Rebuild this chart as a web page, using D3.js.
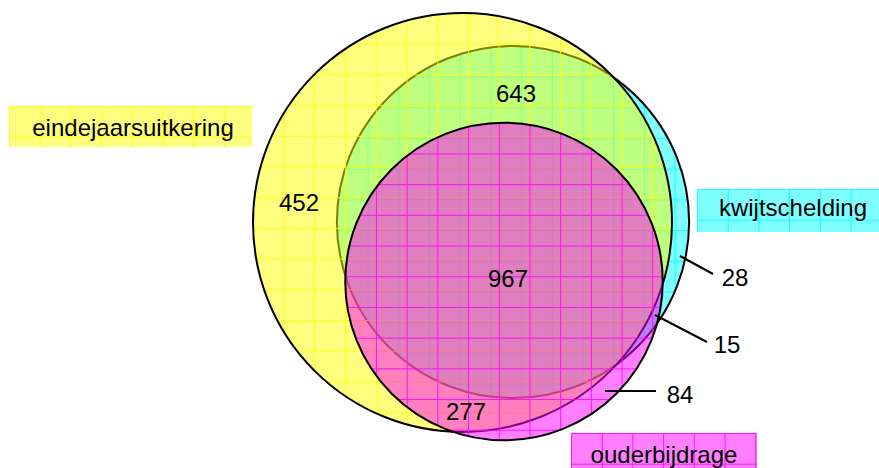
<!DOCTYPE html>
<html>
<head>
<meta charset="utf-8">
<script src="https://cdn.jsdelivr.net/npm/d3@7"></script>
<style>
  body { margin: 0; background: #fff; }
  text { font-family: "Liberation Sans", Arial, Helvetica, sans-serif; fill: #000; }
</style>
</head>
<body>
<div id="chart"></div>
<script>
// Venn diagram: eindejaarsuitkering / kwijtschelding / ouderbijdrage

// sets (drawing order: kwijtschelding first, then eindejaarsuitkering, then ouderbijdrage)
const setKeys = ['K', 'E', 'O'];
const setNames = ['kwijtschelding', 'eindejaarsuitkering', 'ouderbijdrage'];

// region counts and which sets they belong to
const regionValues = [452, 643, 967, 277, 28, 15, 84];
const regionSets = [['E'], ['E', 'K'], ['E', 'K', 'O'], ['E', 'O'], ['K'], ['K', 'O'], ['O']];

// set totals -> circle sizes
const setTotals = setKeys.map(k =>
    d3.sum(regionValues.filter((v, i) => regionSets[i].includes(k))));

const width = 879, height = 468;
const gridStep = 30.7;

const colors = { K: '#00ffff', E: '#ffff00', O: '#ff00ff' };
const centers = { K: [513, 222], E: [462.5, 222.5], O: [504, 281.5] };

const rScale = d3.scaleSqrt()
    .domain([0, d3.max(setTotals)])
    .range([0, 209.5]);

const circles = setKeys.map((k, i) => ({
    key: k,
    name: setNames[i],
    total: setTotals[i],
    cx: centers[k][0],
    cy: centers[k][1],
    r: rScale(setTotals[i])
}));

const svg = d3.select('#chart')
    .append('svg')
    .attr('width', width)
    .attr('height', height);

const defs = svg.append('defs');

// grid pattern anchored at a given origin
function makePattern(id, color, x0, y0) {
    const p = defs.append('pattern')
        .attr('id', id)
        .attr('patternUnits', 'userSpaceOnUse')
        .attr('x', x0)
        .attr('y', y0)
        .attr('width', gridStep)
        .attr('height', gridStep);
    p.append('rect')
        .attr('width', gridStep)
        .attr('height', gridStep)
        .attr('fill', color)
        .attr('fill-opacity', 0.5);
    p.append('path')
        .attr('d', `M0,0.5H${gridStep}M0.5,0V${gridStep}`)
        .attr('stroke', color)
        .attr('stroke-opacity', 0.85)
        .attr('stroke-width', 1);
    return `url(#${id})`;
}

// circles
circles.forEach(c => {
    const fill = makePattern('pat-' + c.key, colors[c.key], c.cx - c.r, c.cy - c.r);
    svg.append('circle')
        .attr('cx', c.cx)
        .attr('cy', c.cy)
        .attr('r', c.r)
        .attr('fill', fill)
        .attr('stroke', '#000')
        .attr('stroke-width', 2);
});

// set labels in coloured boxes
const labelBoxes = {
    E: { x: 9, y: 106, w: 243, h: 41, tx: 133, ty: 136 },
    K: { x: 697, y: 189, w: 182, h: 43, tx: 793, ty: 216 },
    O: { x: 571, y: 433, w: 186, h: 40, tx: 664, ty: 463 }
};

circles.forEach(c => {
    const b = labelBoxes[c.key];
    const fill = makePattern('lab-' + c.key, colors[c.key], b.x, b.y);
    svg.append('rect')
        .attr('x', b.x)
        .attr('y', b.y)
        .attr('width', b.w)
        .attr('height', b.h)
        .attr('fill', fill);
    svg.append('text')
        .attr('x', b.tx)
        .attr('y', b.ty)
        .attr('text-anchor', 'middle')
        .style('font-size', '24px')
        .text(c.name);
});

// region counts
const regionPos = [
    [299, 211], [516, 102], [508, 287], [466, 420], [735, 286], [727, 353], [680, 403]
];
// leader lines for the small regions (index -> line)
const leaders = {
    4: [[680, 256], [713, 274]],
    5: [[655, 315], [707, 342]],
    6: [[605, 391], [656, 391]]
};

Object.entries(leaders).forEach(([i, pts]) => {
    svg.append('line')
        .attr('x1', pts[0][0])
        .attr('y1', pts[0][1])
        .attr('x2', pts[1][0])
        .attr('y2', pts[1][1])
        .attr('stroke', '#000')
        .attr('stroke-width', 2);
});

svg.selectAll('text.count')
    .data(regionValues)
    .join('text')
    .attr('class', 'count')
    .attr('x', (d, i) => regionPos[i][0])
    .attr('y', (d, i) => regionPos[i][1])
    .attr('text-anchor', 'middle')
    .style('font-size', '24px')
    .text(d => d);
</script>
</body>
</html>
